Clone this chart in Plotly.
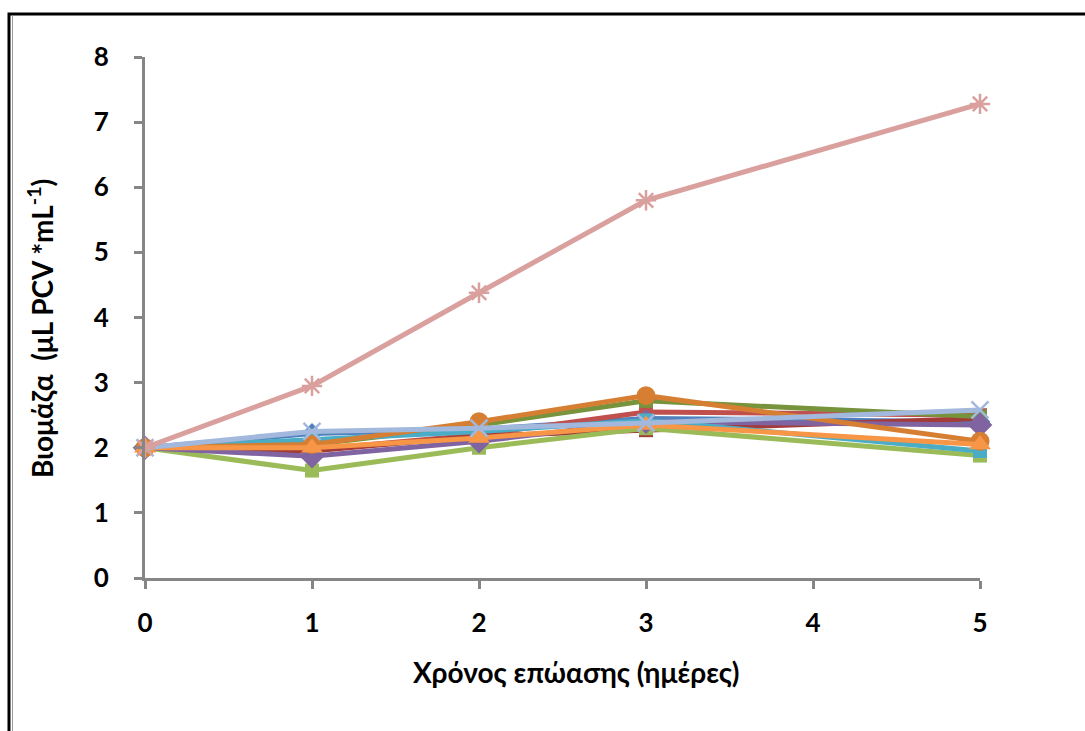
import plotly.graph_objects as go

days = [0, 1, 2, 3, 4, 5]
x_days = [0, 1, 2, 3, 5]

# series values (biomass, µL PCV/mL)
s_blue = [2.0, 2.22, 2.28, 2.45, 2.40]
s_red = [2.0, 1.97, 2.20, 2.55, 2.50]
s_lgreen = [2.0, 1.65, 2.00, 2.30, 1.88]
s_purple = [2.0, 1.87, 2.10, 2.40, 2.35]
s_aqua = [2.0, 2.12, 2.25, 2.42, 1.95]
s_orange = [2.0, 2.00, 2.15, 2.35, 2.05]
s_dgreen = [2.0, 2.05, 2.35, 2.72, 2.48]
s_brown = [2.0, 2.05, 2.40, 2.80, 2.10]
s_dred = [2.0, 1.95, 2.18, 2.27, 2.45]
s_lblue = [2.0, 2.25, 2.30, 2.38, 2.58]
s_pink = [2.0, 2.95, 4.38, 5.80, 7.28]

x_title = "<b>Χρόνος επώασης (ημέρες)</b>"
y_title = "<b>Βιομάζα  (μL PCV *mL<sup>-1</sup>)</b>"

series = [
    ("S1", s_blue, "#4F81BD", "diamond", 16),
    ("S2", s_red, "#C0504D", "square", 14),
    ("S3", s_dred, "#A33B38", "square", 14),
    ("S4", s_lgreen, "#9BBB59", "square", 14),
    ("S5", s_dgreen, "#77933C", "square", 14),
    ("S6", s_purple, "#8064A2", "diamond", 19),
    ("S7", s_aqua, "#4BACC6", "square", 14),
    ("S8", s_brown, "#D67F33", "circle", 19),
    ("S9", s_orange, "#F79646", "triangle-up", 19),
    ("S10", s_lblue, "#A2B8DC", "x-thin", 17),
    ("S11", s_pink, "#D9A09E", "asterisk", 17),
]

fig = go.Figure()
for name, vals, col, sym, sz in series:
    thin = sym in ("x-thin", "asterisk")
    fig.add_trace(go.Scatter(
        x=x_days, y=vals, mode="lines+markers", name=name,
        line=dict(color=col, width=5),
        marker=dict(symbol=sym, size=sz, color=col,
                    line=dict(color=col, width=2.5 if thin else 0)),
        cliponaxis=False, showlegend=False,
    ))

font_family = "Lato, 'Open Sans', sans-serif"

fig.update_layout(
    width=1085, height=731,
    margin=dict(l=145, r=105, t=57, b=153),
    paper_bgcolor="white", plot_bgcolor="white",
    xaxis=dict(
        range=[0, 5], tickvals=days, ticktext=[f"<b>{d}</b>" for d in days],
        showgrid=False, zeroline=False,
        showline=True, linecolor="#868686", linewidth=3,
        ticks="outside", ticklen=8, tickwidth=3, tickcolor="#868686",
        ticklabelstandoff=12,
        tickfont=dict(family=font_family, size=26, color="black"),
    ),
    yaxis=dict(
        range=[0, 8], tickvals=[0, 1, 2, 3, 4, 5, 6, 7, 8],
        ticktext=[f"<b>{v}</b>" for v in range(9)],
        showgrid=False, zeroline=False,
        showline=True, linecolor="#868686", linewidth=3,
        ticks="outside", ticklen=8, tickwidth=3, tickcolor="#868686",
        ticklabelstandoff=20,
        tickfont=dict(family=font_family, size=26, color="black"),
    ),
    annotations=[
        dict(text=x_title, xref="paper", yref="paper",
             x=(576 - 145) / 835, y=(578 - 672) / 521,
             xanchor="center", yanchor="middle", showarrow=False,
             font=dict(family=font_family, size=28, color="black")),
        dict(text=y_title, xref="paper", yref="paper",
             x=(40 - 145) / 835, y=(578 - 329) / 521, textangle=-90,
             xanchor="center", yanchor="middle", showarrow=False,
             font=dict(family=font_family, size=28, color="black")),
    ],
    shapes=[
        dict(type="rect", xref="paper", yref="paper",
             x0=(9 - 145) / 835, x1=(1095 - 145) / 835,
             y0=(578 - 745) / 521, y1=(578 - 14) / 521,
             line=dict(color="black", width=3), layer="below"),
        dict(type="line", xref="paper", yref="paper",
             x0=(12.5 - 145) / 835, x1=(12.5 - 145) / 835,
             y0=(578 - 745) / 521, y1=(578 - 16) / 521,
             line=dict(color="#9a9a9a", width=1), layer="below"),
    ],
)

fig.write_html("out.html")
